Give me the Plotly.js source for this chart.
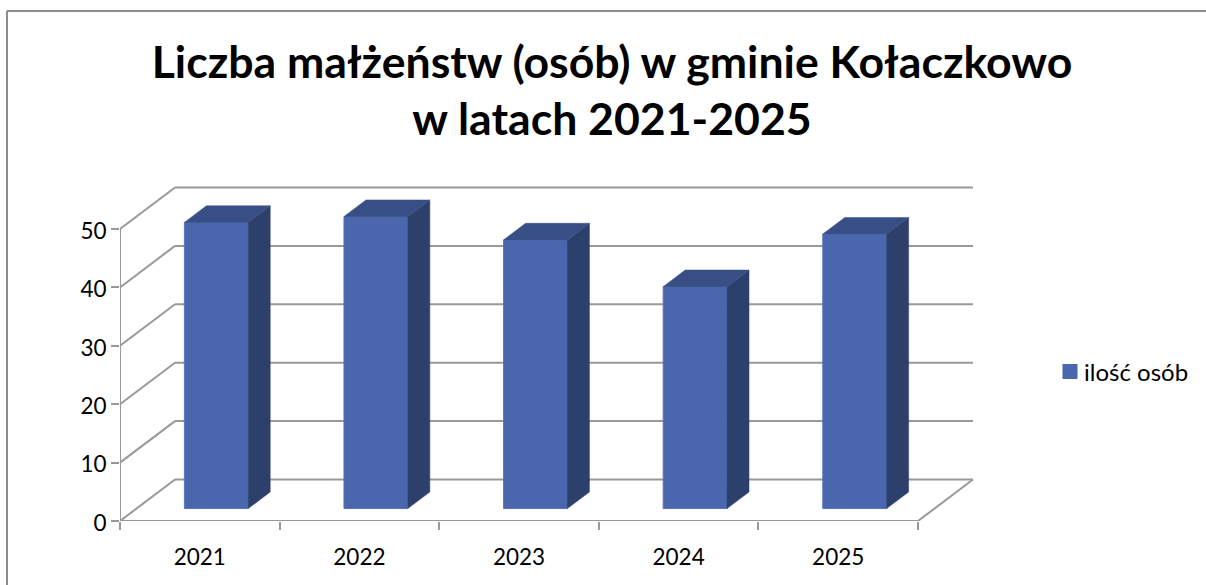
<!DOCTYPE html>
<html><head><meta charset="utf-8">
<script src="https://cdn.plot.ly/plotly-3.0.1.min.js"></script>
<style>html,body{margin:0;padding:0;background:#fff;overflow:hidden}</style>
</head><body><div id="chart" style="width:1206px;height:585px"></div>
<script>
const years = ['2021','2022','2023','2024','2025'];
const values = [49,50,46,38,47];
const seriesName = 'ilość osób';
const yTicks = [0,10,20,30,40,50];

const W=1206,H=585,L=120,R=978,T=180,B=521;
const catPx=(918-120)/5, unitPx=(521-229)/50;
const DX=55/catPx, DY=41.5/unitPx;    // oblique offset of the full floor depth
const d0=0.3, d1=0.7, halfW=0.2;      // bar depth span and half width
const xRange=[-0.5,-0.5+(R-L)/catPx], yRange=[0,(B-T)/unitPx];
const idx=years.map((_,i)=>i);
const grey='#999999', frontColor='#4A66AC', sideColor='#2D3F6B', topColor='#384F86';

const shapes=[];
const seg=(x0,y0,x1,y1)=>({type:'line',layer:'below',xref:'x',yref:'y',x0,y0,x1,y1,line:{color:grey,width:2}});
const xMin=-0.5, xMax=4.5, yTop=yTicks[yTicks.length-1];
yTicks.forEach(v=>{
  shapes.push(seg(xMin+DX,v+DY,xMax+DX,v+DY));   // back wall gridline
  shapes.push(seg(xMin,v,xMin+DX,v+DY));         // side wall gridline
});
shapes.push(seg(xMax,0,xMax+DX,DY));
shapes.push(seg(xMin,0,xMax,0));                 // front floor edge (x axis line)
shapes.push(seg(xMin,0,xMin,yTop));              // y axis line
// outer chart frame, in paper fractions
const px=x=>(x-L)/(R-L), py=y=>(B-y)/(B-T);
[[7,11,W,11],[7,11,7,H]].forEach(s=>shapes.push({type:'line',xref:'paper',yref:'paper',layer:'below',
  x0:px(s[0]),y0:py(s[1]),x1:px(s[2]),y1:py(s[3]),line:{color:'#8c8c8c',width:2}}));

const poly=(xs,ys,c)=>({type:'scatter',mode:'lines',x:xs.concat(xs[0]),y:ys.concat(ys[0]),fill:'toself',fillcolor:c,
  line:{color:c,width:0.5},showlegend:false,hoverinfo:'skip'});

const traces=[{type:'bar',name:seriesName,x:idx.map(i=>i+d0*DX),y:values,base:values.map(()=>d0*DY),width:halfW*2,
  marker:{color:frontColor,line:{color:'#5a76bc',width:1}},showlegend:true}];
idx.forEach(i=>{
  const v=values[i], xl=i-halfW, xr=i+halfW;
  traces.push(poly([xr+d0*DX,xr+d0*DX,xr+d1*DX,xr+d1*DX],[d0*DY,v+d0*DY,v+d1*DY,d1*DY],sideColor));
  traces.push(poly([xl+d0*DX,xr+d0*DX,xr+d1*DX,xl+d1*DX],[v+d0*DY,v+d0*DY,v+d1*DY,v+d1*DY],topColor));
});

const font='Lato, "Open Sans", sans-serif';
const layout={
  width:W,height:H,paper_bgcolor:'#fff',plot_bgcolor:'rgba(0,0,0,0)',
  margin:{l:L,r:W-R,t:T,b:H-B,pad:0},font:{family:font,color:'#000'},
  title:{text:'Liczba małżeństw (osób) w gminie Kołaczkowo<br>w latach 2021-2025',x:612/W,xanchor:'center',
    y:1-77.5/H,yanchor:'top',yref:'container',font:{family:font,size:44.6,weight:700,color:'#000'}},
  xaxis:{range:xRange,tickmode:'array',tickvals:idx,ticktext:years,ticks:'',showgrid:false,zeroline:false,showline:false,
    tickfont:{size:22.5,family:font},ticklabelstandoff:20,
    minor:{tickmode:'array',tickvals:[-0.5,0.5,1.5,2.5,3.5,4.5],ticks:'outside',ticklen:8,tickwidth:2,tickcolor:grey,showgrid:false}},
  yaxis:{range:yRange,tickmode:'array',tickvals:yTicks,ticks:'outside',ticklen:8,tickwidth:2,tickcolor:grey,
    showgrid:false,zeroline:false,showline:false,tickfont:{size:22.5,family:font},ticklabelshift:2},
  legend:{x:px(1044),y:py(372),xanchor:'left',yanchor:'middle',font:{size:24,family:font},bgcolor:'rgba(0,0,0,0)',itemwidth:30},
  shapes:shapes,bargap:0,showlegend:true
};
Plotly.newPlot('chart',traces,layout,{displayModeBar:false,staticPlot:true}).then(gd=>{
  // Excel-style legend key: larger square sitting closer to its label
  gd.querySelectorAll('.legend .legendpoints path').forEach(p=>{
    p.setAttribute('transform','translate(26,0) scale(1.25)');
    p.style.strokeWidth='0';
  });
});
</script></body></html>
